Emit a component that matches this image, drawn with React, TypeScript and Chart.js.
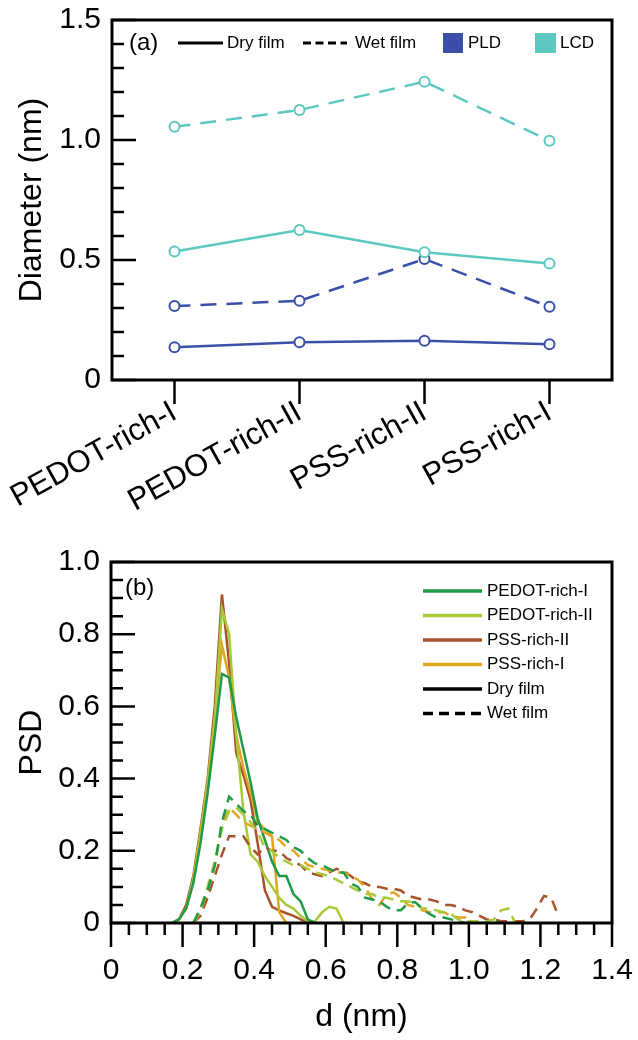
import React, { useEffect, useRef } from 'react';
import { Chart, registerables } from 'chart.js';

Chart.register(...registerables);

const FONT = "'Liberation Sans', Arial, Helvetica, sans-serif";

// ---------- (a) pore diameters ----------
const SAMPLES = ['PEDOT-rich-I', 'PEDOT-rich-II', 'PSS-rich-II', 'PSS-rich-I'];
const PLD_DRY = [0.136, 0.157, 0.164, 0.149];
const PLD_WET = [0.308, 0.33, 0.504, 0.305];
const LCD_DRY = [0.535, 0.625, 0.532, 0.485];
const LCD_WET = [1.055, 1.125, 1.243, 0.997];
const DIAM_TICKS = [0, 0.5, 1.0, 1.5];

// ---------- (b) pore size distributions ----------
const D_DRY = [0.17, 0.19, 0.21, 0.23, 0.25, 0.27, 0.29, 0.31, 0.33, 0.35, 0.37, 0.39, 0.41, 0.43, 0.45, 0.47, 0.49, 0.51, 0.53, 0.55, 0.57, 0.59, 0.61, 0.63, 0.65];
const PEDOT_I_DRY = [0, 0.01, 0.04, 0.11, 0.22, 0.36, 0.52, 0.69, 0.68, 0.57, 0.48, 0.39, 0.29, 0.23, 0.17, 0.13, 0.13, 0.08, 0.06, 0.01, 0, null, null, null, null];
const PEDOT_II_DRY = [0, 0.01, 0.04, 0.12, 0.24, 0.38, 0.56, 0.87, 0.8, 0.52, 0.31, 0.19, 0.17, 0.13, 0.1, 0.07, 0.05, 0.04, 0.02, 0.005, 0.005, 0.03, 0.045, 0.04, 0];
const PSS_II_DRY = [0, 0.01, 0.05, 0.13, 0.26, 0.4, 0.6, 0.91, 0.72, 0.47, 0.41, 0.34, 0.22, 0.09, 0.045, 0.035, 0.027, 0.02, 0.01, 0, null, null, null, null, null];
const PSS_I_DRY = [0, 0.01, 0.04, 0.12, 0.25, 0.39, 0.57, 0.77, 0.68, 0.52, 0.43, 0.36, 0.28, 0.26, 0.24, 0.03, 0, null, null, null, null, null, null, null, null];

const D_WET = [0.21, 0.23, 0.25, 0.27, 0.29, 0.31, 0.33, 0.35, 0.37, 0.39, 0.41, 0.43, 0.45, 0.47, 0.49, 0.51, 0.53, 0.55, 0.57, 0.59, 0.61, 0.63, 0.65, 0.67, 0.69, 0.71, 0.73, 0.75, 0.77, 0.79, 0.81, 0.83, 0.85, 0.87, 0.89, 0.91, 0.93, 0.95, 0.97, 0.99, 1.01, 1.03, 1.05, 1.07, 1.09, 1.11, 1.13, 1.15, 1.17, 1.19, 1.21, 1.23, 1.25];
const PEDOT_I_WET = [null, 0, 0.04, 0.09, 0.16, 0.28, 0.35, 0.33, 0.31, 0.3, 0.27, 0.26, 0.25, 0.24, 0.23, 0.21, 0.2, 0.18, 0.165, 0.16, 0.15, 0.14, 0.14, 0.11, 0.1, 0.07, 0.065, 0.06, 0.045, 0.035, 0.035, 0.055, 0.058, 0.04, 0.025, 0.015, 0.015, 0.01, 0.005, 0, 0, 0, 0, 0.005, 0, null, null, null, null, null, null, null, null];
const PEDOT_II_WET = [null, 0, 0.04, 0.1, 0.17, 0.26, 0.31, 0.32, 0.3, 0.28, 0.25, 0.21, 0.2, 0.18, 0.17, 0.16, 0.16, 0.15, 0.14, 0.135, 0.13, 0.12, 0.11, 0.1, 0.09, 0.08, 0.08, 0.07, 0.07, 0.065, 0.06, 0.06, 0.055, 0.04, 0.04, 0.035, 0.03, 0.025, 0.01, 0.005, 0.005, 0.005, 0.005, 0.01, 0.035, 0.04, 0, null, null, null, null, null, null];
const PSS_II_WET = [null, 0, 0.02, 0.07, 0.13, 0.19, 0.24, 0.24, 0.24, 0.21, 0.19, 0.21, 0.2, 0.2, 0.18, 0.17, 0.16, 0.14, 0.135, 0.13, 0.14, 0.15, 0.145, 0.13, 0.115, 0.11, 0.1, 0.1, 0.095, 0.095, 0.09, 0.075, 0.07, 0.065, 0.065, 0.06, 0.05, 0.05, 0.045, 0.035, 0.03, 0.02, 0.01, 0.01, 0.005, 0.005, 0.005, 0.005, 0.01, 0.04, 0.075, 0.07, 0.02];
const PSS_I_WET = [null, 0, 0.03, 0.09, 0.16, 0.27, 0.32, 0.3, 0.28, 0.27, 0.26, 0.25, 0.24, 0.23, 0.21, 0.2, 0.18, 0.16, 0.155, 0.15, 0.145, 0.14, 0.14, 0.13, 0.12, 0.1, 0.065, 0.05, 0.08, 0.085, 0.07, 0.05, 0.045, 0.035, 0.03, 0.03, 0.03, 0.02, 0.015, 0.015, 0, null, null, null, null, null, null, null, null, null, null, null, null];
const D_TICKS = [0, 0.2, 0.4, 0.6, 0.8, 1.0, 1.2, 1.4];
const PSD_TICKS = [0, 0.2, 0.4, 0.6, 0.8, 1.0];

const BLUE = '#3a50a8';
const TEAL = '#5cc8c0';
const DGREEN = '#1f9a48';
const LGREEN = '#a8ca3a';
const BROWN = '#a8532b';
const ORANGE = '#e3a524';

const fmt = (v: number) => (v === 0 ? '0' : v.toFixed(1));
const pts = (xs: number[], ys: (number | null)[]) =>
  xs.map((x, i) => ({ x, y: ys[i] })).filter((p) => p.y !== null);

const noPad = (s: any) => {
  s.paddingLeft = 0;
  s.paddingRight = 0;
  s.paddingTop = 0;
  s.paddingBottom = 0;
};

// frame + inward y ticks + outward x ticks
const decor = {
  id: 'decor',
  afterDatasetsDraw(chart: any, _a: any, o: any) {
    const { ctx, chartArea: a } = chart;
    const xs = chart.scales.x;
    const ys = chart.scales.y;
    ctx.save();
    ctx.strokeStyle = '#000';
    ctx.lineWidth = 2.5;
    ctx.setLineDash([]);
    ctx.beginPath();
    const ny = Math.round((o.yMax - o.yMin) / o.yMinor);
    const yr = Math.round(o.yMajor / o.yMinor);
    for (let i = 0; i <= ny; i++) {
      const p = ys.getPixelForValue(o.yMin + i * o.yMinor);
      const len = i % yr === 0 ? 24 : 12;
      ctx.moveTo(a.left, p);
      ctx.lineTo(a.left + len, p);
    }
    if (o.xCategory) {
      for (let i = 0; i < chart.data.labels.length; i++) {
        const p = xs.getPixelForValue(i);
        ctx.moveTo(p, a.bottom);
        ctx.lineTo(p, a.bottom + 24);
      }
    } else {
      const nx = Math.round((o.xMax - o.xMin) / o.xMinor);
      const xr = Math.round(o.xMajor / o.xMinor);
      for (let i = 0; i <= nx; i++) {
        const p = xs.getPixelForValue(o.xMin + i * o.xMinor);
        const len = i % xr === 0 ? 24 : 12;
        ctx.moveTo(p, a.bottom);
        ctx.lineTo(p, a.bottom + len);
      }
    }
    ctx.stroke();
    ctx.lineWidth = 3;
    ctx.strokeRect(a.left, a.top, a.right - a.left, a.bottom - a.top);
    ctx.restore();
  },
};

const topLegend = {
  id: 'topLegend',
  afterDraw(chart: any) {
    const { ctx, chartArea: a } = chart;
    const y = a.top + 23;
    ctx.save();
    ctx.fillStyle = '#000';
    ctx.textBaseline = 'middle';
    ctx.textAlign = 'left';
    ctx.font = `24px ${FONT}`;
    ctx.fillText('(a)', a.left + 17, y);
    ctx.font = `17px ${FONT}`;
    ctx.strokeStyle = '#000';
    ctx.lineWidth = 3;
    ctx.beginPath();
    ctx.moveTo(a.left + 66, y);
    ctx.lineTo(a.left + 111, y);
    ctx.stroke();
    ctx.fillText('Dry film', a.left + 115, y);
    ctx.setLineDash([8, 4.5]);
    ctx.beginPath();
    ctx.moveTo(a.left + 191, y);
    ctx.lineTo(a.left + 235, y);
    ctx.stroke();
    ctx.setLineDash([]);
    ctx.fillText('Wet film', a.left + 243, y);
    ctx.fillStyle = BLUE;
    ctx.fillRect(a.left + 331, y - 10, 20, 20);
    ctx.fillStyle = '#000';
    ctx.fillText('PLD', a.left + 356, y);
    ctx.fillStyle = TEAL;
    ctx.fillRect(a.left + 423, y - 10, 21, 20);
    ctx.fillStyle = '#000';
    ctx.fillText('LCD', a.left + 448, y);
    ctx.restore();
  },
};

const LEG_ITEMS = [
  { t: 'PEDOT-rich-I', c: DGREEN, dash: false },
  { t: 'PEDOT-rich-II', c: LGREEN, dash: false },
  { t: 'PSS-rich-II', c: BROWN, dash: false },
  { t: 'PSS-rich-I', c: ORANGE, dash: false },
  { t: 'Dry film', c: '#000', dash: false },
  { t: 'Wet film', c: '#000', dash: true },
];

const bottomLegend = {
  id: 'bottomLegend',
  afterDraw(chart: any) {
    const { ctx, chartArea: a } = chart;
    ctx.save();
    ctx.textBaseline = 'middle';
    ctx.textAlign = 'left';
    ctx.fillStyle = '#000';
    ctx.font = `24px ${FONT}`;
    ctx.fillText('(b)', a.left + 14, a.top + 26);
    ctx.font = `17px ${FONT}`;
    LEG_ITEMS.forEach((it, i) => {
      const y = a.top + 29 + i * 24.5;
      ctx.strokeStyle = it.c;
      ctx.lineWidth = 3.5;
      ctx.setLineDash(it.dash ? [10, 6] : []);
      ctx.beginPath();
      ctx.moveTo(a.left + 312, y);
      ctx.lineTo(a.left + 371, y);
      ctx.stroke();
      ctx.setLineDash([]);
      ctx.fillStyle = '#000';
      ctx.fillText(it.t, a.left + 376, y);
    });
    ctx.restore();
  },
};

const tickFont = { family: FONT, size: 30 };
const catFont = { family: FONT, size: 31 };
const titleFont = { family: FONT, size: 32 };

function topConfig(): any {
  const mk = (data: number[], color: string, wet: boolean) => ({
    data,
    borderColor: color,
    backgroundColor: color,
    borderWidth: 2.5,
    borderDash: wet ? [16, 10] : [],
    pointRadius: 5,
    pointBorderWidth: 2,
    pointBackgroundColor: '#fff',
    pointBorderColor: color,
    tension: 0,
  });
  return {
    type: 'line',
    data: {
      labels: SAMPLES,
      datasets: [
        mk(LCD_WET, TEAL, true),
        mk(LCD_DRY, TEAL, false),
        mk(PLD_WET, BLUE, true),
        mk(PLD_DRY, BLUE, false),
      ],
    },
    options: {
      responsive: false,
      maintainAspectRatio: false,
      devicePixelRatio: 1,
      animation: false,
      events: [],
      layout: { padding: { top: 20, right: 26, left: 0, bottom: 0 } },
      plugins: {
        legend: { display: false },
        tooltip: { enabled: false },
        decor: { yMin: 0, yMax: 1.5, yMinor: 0.1, yMajor: 0.5, xCategory: true },
      },
      scales: {
        x: {
          type: 'category',
          offset: true,
          grid: { display: false, drawTicks: false },
          border: { display: false },
          ticks: { font: catFont, color: '#000', minRotation: 29, maxRotation: 29, autoSkip: false, padding: 14 },
          afterFit: (s: any) => { s.height = 140; noPad(s); },
        },
        y: {
          min: 0,
          max: 1.5,
          grid: { display: false, drawTicks: false },
          border: { display: false },
          afterBuildTicks: (s: any) => { s.ticks = DIAM_TICKS.map((v) => ({ value: v })); },
          ticks: { font: tickFont, color: '#000', padding: 11, callback: (v: any) => fmt(Number(v)) },
          title: { display: true, text: 'Diameter (nm)', font: titleFont, color: '#000', padding: { top: 13, bottom: 0 } },
          afterFit: (s: any) => { s.width = 112; noPad(s); },
        },
      },
    },
    plugins: [decor, topLegend],
  };
}

function bottomConfig(): any {
  const mk = (ys: (number | null)[], xs: number[], color: string, wet: boolean) => ({
    data: pts(xs, ys),
    borderColor: color,
    backgroundColor: color,
    borderWidth: 2.5,
    borderDash: wet ? [11, 7] : [],
    pointRadius: 0,
    tension: 0,
    spanGaps: false,
  });
  return {
    type: 'line',
    data: {
      datasets: [
        mk(PEDOT_I_WET, D_WET, DGREEN, true),
        mk(PEDOT_II_WET, D_WET, LGREEN, true),
        mk(PSS_I_WET, D_WET, ORANGE, true),
        mk(PSS_II_WET, D_WET, BROWN, true),
        mk(PEDOT_I_DRY, D_DRY, DGREEN, false),
        mk(PEDOT_II_DRY, D_DRY, LGREEN, false),
        mk(PSS_I_DRY, D_DRY, ORANGE, false),
        mk(PSS_II_DRY, D_DRY, BROWN, false),
      ],
    },
    options: {
      responsive: false,
      maintainAspectRatio: false,
      devicePixelRatio: 1,
      animation: false,
      events: [],
      layout: { padding: { top: 42, right: 26, left: 0, bottom: 0 } },
      plugins: {
        legend: { display: false },
        tooltip: { enabled: false },
        decor: { yMin: 0, yMax: 1.0, yMinor: 0.05, yMajor: 0.2, xMin: 0, xMax: 1.4, xMinor: 0.05, xMajor: 0.2 },
      },
      scales: {
        x: {
          type: 'linear',
          min: 0,
          max: 1.4,
          grid: { display: false, drawTicks: false },
          border: { display: false },
          afterBuildTicks: (s: any) => { s.ticks = D_TICKS.map((v) => ({ value: v })); },
          ticks: { font: tickFont, color: '#000', padding: 30, maxRotation: 0, autoSkip: false, callback: (v: any) => fmt(Number(v)) },
          title: { display: true, text: 'd (nm)', font: titleFont, color: '#000', padding: { top: 0, bottom: 4 } },
          afterFit: (s: any) => { s.height = 117; noPad(s); },
        },
        y: {
          min: 0,
          max: 1.0,
          grid: { display: false, drawTicks: false },
          border: { display: false },
          afterBuildTicks: (s: any) => { s.ticks = PSD_TICKS.map((v) => ({ value: v })); },
          ticks: { font: tickFont, color: '#000', padding: 11, callback: (v: any) => fmt(Number(v)) },
          title: { display: true, text: 'PSD', font: titleFont, color: '#000', padding: { top: 13, bottom: 0 } },
          afterFit: (s: any) => { s.width = 111; noPad(s); },
        },
      },
    },
    plugins: [decor, bottomLegend],
  };
}

export default function App() {
  const topRef = useRef<HTMLCanvasElement>(null);
  const botRef = useRef<HTMLCanvasElement>(null);
  useEffect(() => {
    const c1 = new Chart(topRef.current as HTMLCanvasElement, topConfig());
    const c2 = new Chart(botRef.current as HTMLCanvasElement, bottomConfig());
    return () => {
      c1.destroy();
      c2.destroy();
    };
  }, []);
  return (
    <div style={{ position: 'absolute', left: 0, top: 0, width: 638, height: 1040, background: '#fff', overflow: 'hidden' }}>
      <canvas ref={topRef} width={638} height={520} style={{ position: 'absolute', left: 0, top: 0, width: 638, height: 520 }} />
      <canvas ref={botRef} width={638} height={520} style={{ position: 'absolute', left: 0, top: 520, width: 638, height: 520 }} />
    </div>
  );
}
